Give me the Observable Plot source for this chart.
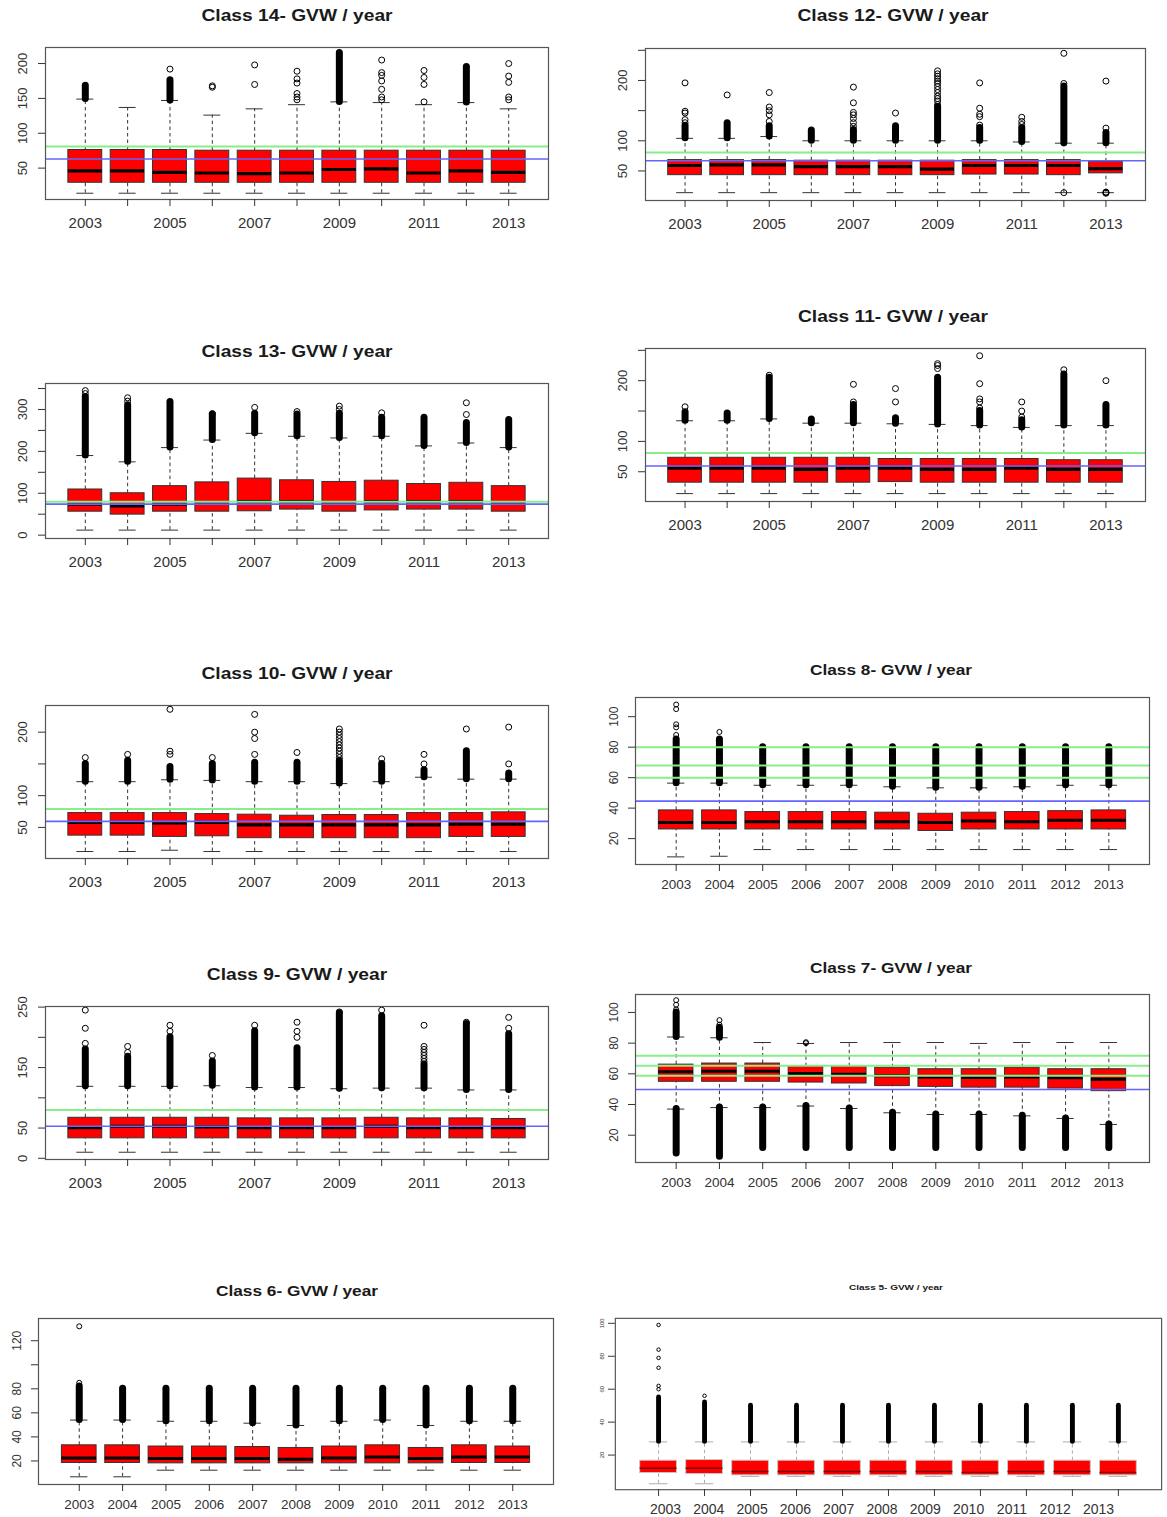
<!DOCTYPE html>
<html><head><meta charset="utf-8">
<script src="https://cdn.jsdelivr.net/npm/d3@7"></script>
<script src="https://cdn.jsdelivr.net/npm/@observablehq/plot@0.6"></script>
<style>
html,body{margin:0;padding:0;background:#fff;overflow:hidden;}
#page{position:relative;width:1167px;height:1517px;overflow:hidden;font-family:"Liberation Sans",Arial,sans-serif;background:#fff;}
.title{position:absolute;font-weight:bold;white-space:nowrap;color:#1a1a1a;}
.panel{position:absolute;}
</style></head><body><div id="page"></div>
<script>
const years = ["2003","2004","2005","2006","2007","2008","2009","2010","2011","2012","2013"];

// ---------- Class 14
const c14Q1  = [29,29,29,29,29,29,29,29,29,29,29];
const c14Med = [46,46,44,43,42,43,48,49,43,46,44];
const c14Q3  = [76,76,76,75,75,75,75,75,75,75,75];
const c14Lo  = [14,14,14,14,14,14,14,14,14,14,14];
const c14Hi  = [149,137,147,126,135,141,145,144,141,144,135];
const c14Dense = [168,null,176,null,null,null,215,null,null,195,null];
const c14Out = [[2005,192],[2006,166],[2006,168],[2007,170],[2007,198],[2008,148],[2008,152],[2008,157],[2008,172],[2008,178],[2008,189],[2010,148],[2010,152],[2010,163],[2010,175],[2010,183],[2010,187],[2010,205],[2011,145],[2011,170],[2011,180],[2011,190],[2013,148],[2013,152],[2013,173],[2013,182],[2013,200]];
const c14Green = [81], c14Blue = [63];
const c14YTicks = [50,100,150,200], c14YLabels = [50,100,150,200];

// ---------- Class 12
const c12Q1  = [43,43,43,43,43,43,43,44,44,43,46];
const c12Med = [59,60,60,57,57,57,53,59,59,59,54];
const c12Q3  = [68,68,68,67,67,67,67,68,68,68,65];
const c12Lo  = [14,14,14,14,14,14,14,14,14,14,14];
const c12Hi  = [104,104,107,100,100,100,100,100,98,96,96];
const c12Dense = [125,129,124,117,118,124,156,121,121,190,113];
const c12Out = [[2003,130],[2003,135],[2003,146],[2003,149],[2003,196],[2004,176],[2005,132],[2005,143],[2005,150],[2005,156],[2005,180],[2007,124],[2007,130],[2007,137],[2007,143],[2007,147],[2007,163],[2007,189],[2008,146],[2009,160],[2009,166],[2009,170],[2009,174],[2009,180],[2009,185],[2009,190],[2009,195],[2009,199],[2009,203],[2009,207],[2009,211],[2009,216],[2010,126],[2010,140],[2010,144],[2010,154],[2010,196],[2011,127],[2011,132],[2011,139],[2012,14],[2012,195],[2012,245],[2013,13],[2013,14],[2013,15],[2013,121],[2013,199]];
const c12Green = [80.5], c12Blue = [67];
const c12YTicks = [50,100,150,200,250], c12YLabels = [50,100,200];

// ---------- Class 13
const c13Q1  = [56,49,56,56,57,61,56,59,61,61,56];
const c13Med = [74,70,74,77,80,80,77,80,80,80,77];
const c13Q3  = [109,100,117,126,135,131,127,130,122,125,117];
const c13Lo  = [12,12,12,12,12,12,12,12,12,12,12];
const c13Hi  = [190,175,209,227,243,236,232,236,213,220,209];
const c13Dense = [330,310,318,288,290,288,290,280,280,268,275];
const c13Out = [[2003,338],[2003,345],[2004,320],[2004,328],[2006,290],[2007,305],[2008,295],[2009,300],[2009,308],[2010,292],[2012,288],[2012,316]];
const c13Green = [80], c13Blue = [74];
const c13YTicks = [0,50,100,150,200,250,300,350], c13YLabels = [0,100,200,300];

// ---------- Class 11
const c11Q1  = [32,32,32,32,32,33,32,32,32,32,32];
const c11Med = [56,56,56,54,56,56,54,54,56,54,54];
const c11Q3  = [73,73,73,73,73,71,71,71,71,69,69];
const c11Lo  = [14,14,14,14,14,14,14,14,14,14,14];
const c11Hi  = [134,134,137,130,130,129,128,126,123,126,126];
const c11Dense = [148,146,205,136,160,138,205,150,135,210,160];
const c11Out = [[2003,157],[2005,209],[2007,165],[2007,194],[2008,165],[2008,187],[2009,220],[2009,225],[2009,228],[2010,155],[2010,165],[2010,170],[2010,195],[2010,241],[2011,140],[2011,150],[2011,165],[2012,218],[2013,200]];
const c11Green = [81], c11Blue = [59.5];
const c11YTicks = [50,100,150,200,250], c11YLabels = [50,100,200];

// ---------- Class 10
const c10Q1  = [37,37,35,36,33,33,33,33,33,35,35];
const c10Med = [58,58,57,58,54,54,54,54,54,55,55];
const c10Q3  = [72.6,72.6,72.6,71,70,68.4,69.5,69.5,72.6,72.6,73.7];
const c10Lo  = [12,12,14,12,12,12,12,12,12,12,12];
const c10Hi  = [122,122,125,124,122,122,119,122,129,126,126];
const c10Dense = [150,155,145,150,152,152,155,150,140,170,135];
const c10Out = [[2003,160],[2004,165],[2005,165],[2005,170],[2005,236],[2006,160],[2007,165],[2007,190],[2007,200],[2007,228],[2008,168],[2009,160],[2009,165],[2009,170],[2009,175],[2009,180],[2009,185],[2009,190],[2009,195],[2009,200],[2009,205],[2010,158],[2011,150],[2011,165],[2012,205],[2013,150],[2013,208]];
const c10Green = [79], c10Blue = [59.5];
const c10YTicks = [50,100,150,200], c10YLabels = [50,100,200];

// ---------- Class 8
const c8Q1  = [26,26,26,26,26,26,25,26,26,26,26];
const c8Med = [30.5,30.5,31,31,31,31,30.5,31.5,31,32,32];
const c8Q3  = [38.5,38.5,37.4,37.4,37.4,37,36.3,37,37.4,38,38.5];
const c8Lo  = [8,8.4,12.8,12.8,12.8,12.8,12.8,12.8,12.8,12.8,12.8];
const c8Hi  = [56.4,56.4,55,55,55,54,53.3,53.3,54,55,55];
const c8Dense = [85,85,80,80,80,80,80,80,80,80,80];
const c8Out = [[2003,88],[2003,93],[2003,95],[2003,105],[2003,108],[2004,90]];
const c8Green = [80,68,60], c8Blue = [44.6];
const c8YTicks = [20,40,60,80,100], c8YLabels = [20,40,60,80,100];

// ---------- Class 9
const c9Q1  = [33,33,33,33,33,33,33,33,33,33,33];
const c9Med = [50.5,53,53,52,50.5,50.5,50.5,53,50.5,50.5,50.5];
const c9Q3  = [67,67,67,67,66,66,66,67,66,66,65];
const c9Lo  = [10,10,10,10,10,10,10,10,10,10,10];
const c9Hi  = [119,119,119,120,117,117,115,116,116,113,113];
const c9Dense = [180,168,200,160,210,182,240,235,155,222,205];
const c9Out = [[2003,190],[2003,215],[2003,245],[2004,175],[2004,185],[2005,210],[2005,220],[2006,170],[2007,220],[2008,200],[2008,210],[2008,225],[2009,242],[2010,245],[2011,160],[2011,165],[2011,170],[2011,175],[2011,180],[2011,185],[2011,220],[2012,225],[2013,215],[2013,233]];
const c9Green = [80], c9Blue = [53];
const c9YTicks = [0,50,100,150,200,250], c9YLabels = [0,50,150,250];

// ---------- Class 7
const c7Q1  = [54.8,54.8,54.8,54.3,53.7,52,51.5,51,51,50.4,48.7];
const c7Med = [61.3,61.7,61.7,60.2,59.8,58.7,58,57.6,58,57.4,56.5];
const c7Q3  = [66,66.7,66.7,64.6,64.6,64,63,63,64,63,63];
const c7Lo  = [37,38,38,39,37.4,34.6,33.5,33.5,32.6,30.9,27];
const c7Hi  = [84,83.5,80.4,79.8,80.4,80.4,80.4,79.8,80.4,80.4,80.4];
const c7Dense = [100,90,null,null,null,null,null,null,null,null,null];
const c7DenseLo = [8,6,11.7,11.7,11.7,11.7,11.7,11.7,11.7,11.7,11.7];
const c7Out = [[2003,102],[2003,105],[2003,108],[2004,92],[2004,95],[2006,80],[2006,80.6]];
const c7Green = [71.7,65.2,58.7], c7Blue = [49.8];
const c7YTicks = [20,40,60,80,100], c7YLabels = [20,40,60,80,100];

// ---------- Class 6
const c6Q1  = [18.3,18.3,18,18,18,18,18,18,18,18.3,18.3];
const c6Med = [22.5,22.5,22,22,22,21.4,22.5,23.3,22,23.3,23.3];
const c6Q3  = [33,33,32,32,31.6,30.8,32,33,30.8,33,32];
const c6Lo  = [6.8,6.8,12.3,12.3,12.3,12.3,12.3,12.3,12.3,12.3,12.3];
const c6Hi  = [54,54,53,53,51.4,49.5,53,54,49.5,53,53];
const c6Dense = [82,80,80,80,80,80,80,80,80,80,80];
const c6Out = [[2003,85],[2003,132]];
const c6YTicks = [20,40,60,80,100,120], c6YLabels = [20,40,60,80,120];

// ---------- Class 5
const c5Q1  = [9.1,8.5,7.7,7.7,7.7,7.7,7.7,7.7,7.7,7.7,7.7];
const c5Med = [12,12,10,10,10,10,10,9.5,10,10,9.5];
const c5Q3  = [16.6,17,16.6,16.6,16.6,16.6,16.6,16.6,16.6,16.6,16.6];
const c5Lo  = [2.6,2.6,7.1,7.1,7.1,7.1,7.1,7.1,7.1,7.1,7.1];
const c5Hi  = [28,28,28,28,28,28,28,28,28,28,28];
const c5Dense = [55,52,50,50,50,50,50,50,50,50,50];
const c5Out = [[2003,60],[2003,62],[2003,73],[2003,79],[2003,84],[2003,99],[2004,56]];
const c5YTicks = [20,40,60,80,100], c5YLabels = [20,40,60,80,100];

// ---------- layout (positions of frames & titles) and styles
const big = {titleFs:17, titleSx:1.13, xFs:15, yFs:13, odd:true, r:3, dw:7, xPad:11, yPad:12, box:"#333", med:"#000", medW:3.2, wh:"#333"};
const mid = {titleFs:15, titleSx:1.15, xFs:13.5, yFs:12, odd:false, r:2.5, dw:7, xPad:8, yPad:11, box:"#333", med:"#000", medW:3, wh:"#333"};
const small = {titleFs:8, titleSx:1.25, xFs:14, yFs:6, odd:false, r:1.8, dw:5, xPad:4, yPad:5, box:"#c8c8c8", med:"#7a0000", medW:1.5, wh:"#aaa", noXLabels:true};

const panels = [
  {title:"Class 14- GVW / year", tx:297, ty:16, fl:45, fr:548, ft:47, fb:199, dom:[5,223], st:big,
   q1:c14Q1, med:c14Med, q3:c14Q3, lo:c14Lo, hi:c14Hi, dense:c14Dense, out:c14Out, green:c14Green, blue:c14Blue, yTicks:c14YTicks, yLabels:c14YLabels},
  {title:"Class 12- GVW / year", tx:893, ty:16, fl:645, fr:1145, ft:48, fb:200, dom:[1,253], st:big,
   q1:c12Q1, med:c12Med, q3:c12Q3, lo:c12Lo, hi:c12Hi, dense:c12Dense, out:c12Out, green:c12Green, blue:c12Blue, yTicks:c12YTicks, yLabels:c12YLabels},
  {title:"Class 13- GVW / year", tx:297, ty:352, fl:45, fr:548, ft:383, fb:538, dom:[-8,362], st:big,
   q1:c13Q1, med:c13Med, q3:c13Q3, lo:c13Lo, hi:c13Hi, dense:c13Dense, out:c13Out, green:c13Green, blue:c13Blue, yTicks:c13YTicks, yLabels:c13YLabels},
  {title:"Class 11- GVW / year", tx:893, ty:317, fl:645, fr:1145, ft:348, fb:501, dom:[1,253], st:big,
   q1:c11Q1, med:c11Med, q3:c11Q3, lo:c11Lo, hi:c11Hi, dense:c11Dense, out:c11Out, green:c11Green, blue:c11Blue, yTicks:c11YTicks, yLabels:c11YLabels},
  {title:"Class 10- GVW / year", tx:297, ty:674, fl:45, fr:548, ft:705, fb:858, dom:[1,242], st:big,
   q1:c10Q1, med:c10Med, q3:c10Q3, lo:c10Lo, hi:c10Hi, dense:c10Dense, out:c10Out, green:c10Green, blue:c10Blue, yTicks:c10YTicks, yLabels:c10YLabels},
  {title:"Class 8- GVW / year", tx:891, ty:669, fl:635, fr:1149, ft:697, fb:864, dom:[3,112.6], st:mid,
   q1:c8Q1, med:c8Med, q3:c8Q3, lo:c8Lo, hi:c8Hi, dense:c8Dense, out:c8Out, green:c8Green, blue:c8Blue, yTicks:c8YTicks, yLabels:c8YLabels},
  {title:"Class 9- GVW / year", tx:297, ty:975, fl:45, fr:548, ft:1006, fb:1159, dom:[-2,251], st:big,
   q1:c9Q1, med:c9Med, q3:c9Q3, lo:c9Lo, hi:c9Hi, dense:c9Dense, out:c9Out, green:c9Green, blue:c9Blue, yTicks:c9YTicks, yLabels:c9YLabels},
  {title:"Class 7- GVW / year", tx:891, ty:967, fl:635, fr:1149, ft:994, fb:1162, dom:[2.2,111.7], st:mid,
   q1:c7Q1, med:c7Med, q3:c7Q3, lo:c7Lo, hi:c7Hi, dense:c7Dense, denseLo:c7DenseLo, out:c7Out, green:c7Green, blue:c7Blue, yTicks:c7YTicks, yLabels:c7YLabels},
  {title:"Class 6- GVW / year", tx:297, ty:1290, fl:38, fr:553, ft:1318, fb:1484, dom:[0.4,138.5], st:mid,
   q1:c6Q1, med:c6Med, q3:c6Q3, lo:c6Lo, hi:c6Hi, dense:c6Dense, out:c6Out, yTicks:c6YTicks, yLabels:c6YLabels},
  {title:"Class 5- GVW / year", tx:896, ty:1287, fl:616, fr:1174, ft:1318, fb:1493, dom:[-1,103], st:small,
   q1:c5Q1, med:c5Med, q3:c5Q3, lo:c5Lo, hi:c5Hi, dense:c5Dense, out:c5Out, yTicks:c5YTicks, yLabels:c5YLabels,
   labelAxis:{first:665, step:43.3, y:1510}}
];

const page = document.getElementById("page");
const FONT = "Liberation Sans, Arial, sans-serif";

function drawPanel(p) {
  const st = p.st;
  const ml = 55, mr = 6, mt = 6, mb = 42;
  const fw = p.fr - p.fl, fh = p.fb - p.ft;
  const W = fw + ml + mr, H = fh + mt + mb;
  const s = fw / 11.88;
  const bw = 0.8 * s;
  const rows = years.map((y, i) => ({year: y, q1: p.q1[i], med: p.med[i], q3: p.q3[i], lo: p.lo[i], hi: p.hi[i],
    dHi: p.dense ? p.dense[i] : null, dLo: p.denseLo ? p.denseLo[i] : null}));
  const outs = p.out.map(([y, v]) => ({year: String(y), v}));
  const marks = [
    Plot.ruleX(rows, {x: "year", y1: "q3", y2: "hi", stroke: st.wh, strokeDasharray: "3.5,3"}),
    Plot.ruleX(rows, {x: "year", y1: "lo", y2: "q1", stroke: st.wh, strokeDasharray: "3.5,3"}),
    Plot.tickY(rows, {x: "year", y: "hi", insetLeft: bw / 4, insetRight: bw / 4, stroke: st.wh}),
    Plot.tickY(rows, {x: "year", y: "lo", insetLeft: bw / 4, insetRight: bw / 4, stroke: st.wh}),
    Plot.barY(rows, {x: "year", y1: "q1", y2: "q3", fill: "#ff0000", stroke: st.box, strokeWidth: 1}),
    Plot.tickY(rows, {x: "year", y: "med", stroke: st.med, strokeWidth: st.medW}),
    Plot.ruleX(rows.filter(d => d.dHi != null), {x: "year", y1: "hi", y2: "dHi", stroke: "#000", strokeWidth: st.dw, strokeLinecap: "round"}),
    Plot.ruleX(rows.filter(d => d.dLo != null), {x: "year", y1: "dLo", y2: "lo", stroke: "#000", strokeWidth: st.dw, strokeLinecap: "round"}),
    Plot.dot(outs, {x: "year", y: "v", r: st.r, stroke: "#000", strokeWidth: 1, fill: "none"})
  ];
  if (p.green) marks.push(Plot.ruleY(p.green, {stroke: "#88ee88", strokeWidth: 2}));
  if (p.blue) marks.push(Plot.ruleY(p.blue, {stroke: "#6464ff", strokeWidth: 1.6}));
  marks.push(Plot.frame({stroke: "#555", strokeWidth: 1.2}));
  marks.push(Plot.axisX({tickSize: 7, tickPadding: st.xPad, fontSize: st.xFs, label: null,
    tickFormat: d => st.noXLabels ? "" : (!st.odd || (+d) % 2 === 1 ? d : "")}));
  marks.push(Plot.axisY({ticks: p.yTicks, tickSize: 7, tickPadding: st.yPad, tickRotate: -90, fontSize: st.yFs, label: null,
    tickFormat: d => p.yLabels.includes(d) ? String(d) : ""}));
  const svg = Plot.plot({
    width: W, height: H, marginLeft: ml, marginRight: mr, marginTop: mt, marginBottom: mb,
    x: {type: "band", domain: years, range: [ml + 0.44 * s, ml + fw - 0.44 * s], paddingInner: 0.2, paddingOuter: 0.1, round: false, label: null},
    y: {domain: p.dom, label: null},
    style: {fontFamily: FONT, background: "transparent", color: "#333", overflow: "visible"},
    marks
  });
  const div = document.createElement("div");
  div.className = "panel";
  div.style.left = (p.fl - ml) + "px";
  div.style.top = (p.ft - mt) + "px";
  div.appendChild(svg);
  page.appendChild(div);

  const t = document.createElement("div");
  t.className = "title";
  t.textContent = p.title;
  t.style.left = p.tx + "px";
  t.style.top = p.ty + "px";
  t.style.fontSize = st.titleFs + "px";
  t.style.transform = `translate(-50%,-50%) scaleX(${st.titleSx})`;
  page.appendChild(t);

  if (p.labelAxis) {
    const la = p.labelAxis;
    const left = 590, lw = 1167 - left;
    const start = la.first - 0.5 * la.step - left;
    const ax = Plot.plot({
      width: lw, height: 24, marginLeft: 0, marginRight: 0, marginTop: 0, marginBottom: 24,
      x: {type: "band", domain: years, range: [start, start + 11 * la.step], paddingInner: 0.2, paddingOuter: 0.1, round: false, label: null},
      style: {fontFamily: FONT, background: "transparent", color: "#333", overflow: "visible"},
      marks: [Plot.axisX({tickSize: 0, tickPadding: 0, fontSize: st.xFs, label: null})]
    });
    const d2 = document.createElement("div");
    d2.className = "panel";
    d2.style.left = left + "px";
    d2.style.top = (la.y - 6) + "px";
    d2.appendChild(ax);
    page.appendChild(d2);
  }
}

panels.forEach(drawPanel);
</script>
</body></html>
